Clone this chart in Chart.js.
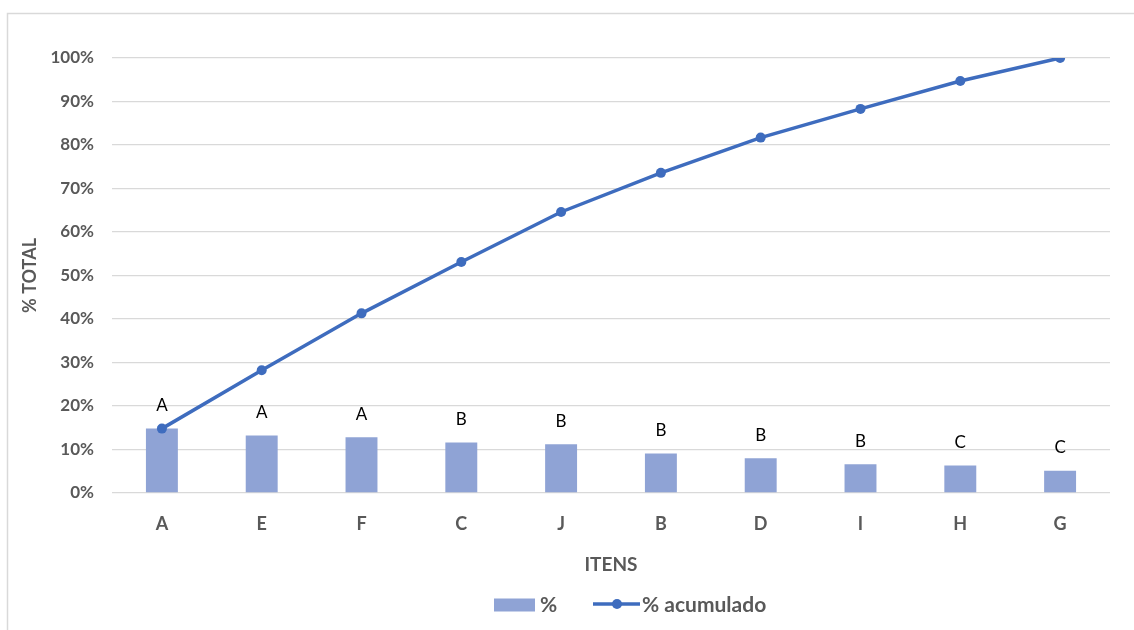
<!DOCTYPE html>
<html><head><meta charset="utf-8">
<script src="https://cdn.jsdelivr.net/npm/chart.js@4/dist/chart.umd.min.js"></script>
<style>html,body{margin:0;padding:0;background:#fff}#wrap{position:absolute;left:0;top:0;width:1134px;height:630px}</style>
</head><body><div id="wrap"><canvas id="c" width="1134" height="630"></canvas></div>
<script>
const categories = ['A','E','F','C','J','B','D','I','H','G'];
const percentValues = [14.8, 13.2, 12.8, 11.6, 11.2, 9.1, 8.0, 6.6, 6.3, 5.1];
const cumulativeValues = [14.8, 28.2, 41.3, 53.1, 64.6, 73.6, 81.7, 88.3, 94.7, 100];
const classLabels = ['A','A','A','B','B','B','B','B','C','C'];
const yTickValues = [0, 10, 20, 30, 40, 50, 60, 70, 80, 90, 100];

const BAR_COLOR = '#8FA3D5';
const LINE_COLOR = '#3E6CBE';
const TEXT_GRAY = '#595959';
const FONT = 'Lato, "Liberation Sans", sans-serif';

const framePlugin = {
  id: 'frame',
  beforeDraw(chart){
    const ctx = chart.ctx;
    ctx.save();
    ctx.fillStyle = '#fff'; ctx.fillRect(0,0,chart.width,chart.height);
    ctx.strokeStyle = '#d9d9d9'; ctx.lineWidth = 1.5;
    ctx.beginPath(); ctx.moveTo(7.5, 630); ctx.lineTo(7.5, 13.5); ctx.lineTo(1134, 13.5); ctx.stroke();
    ctx.restore();
  }
};

const classPlugin = {
  id: 'classLabels',
  afterDatasetsDraw(chart){
    const meta = chart.getDatasetMeta(0);
    const ctx = chart.ctx;
    ctx.save();
    ctx.font = '17px ' + FONT;
    ctx.fillStyle = '#000';
    ctx.textAlign = 'center';
    ctx.textBaseline = 'middle';
    meta.data.forEach((el, i) => {
      ctx.fillText(classLabels[i], el.x, el.y - 23);
    });
    ctx.restore();
  }
};

// Excel-style legend below the axis title
const legendPlugin = {
  id: 'excelLegend',
  afterDraw(chart){
    const ctx = chart.ctx;
    const ds = chart.data.datasets;
    const cy = 605;
    ctx.save();
    ctx.font = 'bold 21px ' + FONT;
    ctx.fillStyle = TEXT_GRAY;
    ctx.textBaseline = 'middle';
    ctx.textAlign = 'left';
    // bar item
    let x = 494;
    ctx.fillStyle = ds[0].backgroundColor;
    ctx.fillRect(x, cy - 6.5, 41, 13);
    ctx.fillStyle = TEXT_GRAY;
    ctx.fillText(ds[0].label, x + 46, cy);
    // line item
    x = 593;
    ctx.strokeStyle = ds[1].borderColor; ctx.lineWidth = 3.5;
    ctx.beginPath(); ctx.moveTo(x, cy - 1); ctx.lineTo(x + 47, cy - 1); ctx.stroke();
    ctx.fillStyle = ds[1].borderColor;
    ctx.beginPath(); ctx.arc(x + 24, cy - 1, 5, 0, Math.PI * 2); ctx.fill();
    ctx.fillStyle = TEXT_GRAY;
    ctx.fillText(ds[1].label, x + 49, cy);
    ctx.restore();
  }
};

new Chart(document.getElementById('c'), {
  type: 'bar',
  data: {
    labels: categories,
    datasets: [
      { type: 'bar', label: '%', data: percentValues, backgroundColor: BAR_COLOR,
        barPercentage: 0.32, categoryPercentage: 1, order: 2 },
      { type: 'line', label: '% acumulado', data: cumulativeValues, borderColor: LINE_COLOR,
        backgroundColor: LINE_COLOR, borderWidth: 3.5, pointRadius: 5, pointHoverRadius: 5,
        pointBackgroundColor: LINE_COLOR, pointBorderWidth: 0, tension: 0, order: 1 }
    ]
  },
  options: {
    responsive: false,
    animation: false,
    events: [],
    layout: { padding: { left: 18, right: 24, top: 58, bottom: 45 } },
    plugins: {
      tooltip: { enabled: false },
      legend: { display: false }
    },
    scales: {
      x: {
        afterFit(scale){ scale.height = 92; },
        grid: { display: false },
        border: { display: false },
        ticks: { color: TEXT_GRAY, font: { family: FONT, size: 18, weight: 'bold' }, padding: 12 },
        title: { display: true, text: 'ITENS', color: TEXT_GRAY,
                 font: { family: FONT, size: 19, weight: 'bold' }, padding: { top: 4, bottom: 9 } }
      },
      y: {
        min: 0, max: 100,
        afterFit(scale){ scale.width = 94; },
        afterBuildTicks(scale){ scale.ticks = yTickValues.map(v => ({ value: v })); },
        grid: { color: '#d9d9d9', lineWidth: 1.3, drawTicks: false },
        border: { display: false },
        ticks: { color: TEXT_GRAY, font: { family: FONT, size: 17, weight: 'bold' }, padding: 18,
                 callback: v => v + '%' },
        title: { display: true, text: '% TOTAL', color: TEXT_GRAY,
                 font: { family: FONT, size: 18, weight: 'bold' }, padding: { top: 1, bottom: 4 } }
      }
    }
  },
  plugins: [framePlugin, classPlugin, legendPlugin]
});
</script></body></html>
